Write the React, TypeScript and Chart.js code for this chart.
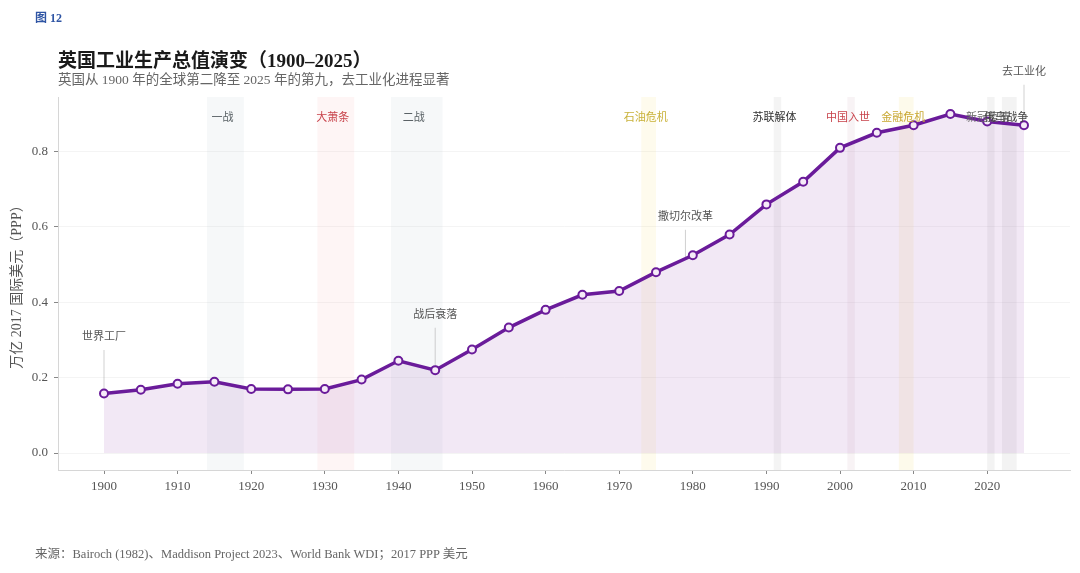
import React, { useEffect, useRef } from "react";
import { Chart, registerables } from "chart.js";

Chart.register(...registerables);

const years = [1900, 1905, 1910, 1915, 1920, 1925, 1930, 1935, 1940, 1945, 1950, 1955, 1960, 1965, 1970, 1975, 1980, 1985, 1990, 1995, 2000, 2005, 2010, 2015, 2020, 2025];
const values = [0.158, 0.168, 0.184, 0.189, 0.170, 0.169, 0.170, 0.195, 0.245, 0.220, 0.275, 0.333, 0.380, 0.420, 0.430, 0.480, 0.525, 0.580, 0.660, 0.720, 0.810, 0.850, 0.870, 0.900, 0.880, 0.870];
const xTickYears = [1900, 1910, 1920, 1930, 1940, 1950, 1960, 1970, 1980, 1990, 2000, 2010, 2020];
const yTickValues = [0.0, 0.2, 0.4, 0.6, 0.8];

const eventNames = ["一战", "大萧条", "二战", "石油危机", "苏联解体", "中国入世", "金融危机", "新冠疫情", "俄乌战争"];
const eventStarts = [1914, 1929, 1939, 1973, 1991, 2001, 2008, 2020, 2022];
const eventEnds = [1919, 1934, 1946, 1975, 1992, 2002, 2010, 2021, 2024];
const eventBandColors = [
  "rgba(120,145,160,0.065)",
  "rgba(240,90,90,0.06)",
  "rgba(120,145,160,0.065)",
  "rgba(240,210,60,0.09)",
  "rgba(100,100,100,0.07)",
  "rgba(150,90,110,0.07)",
  "rgba(240,210,60,0.10)",
  "rgba(100,100,100,0.075)",
  "rgba(100,100,100,0.075)",
];
const eventTextColors = ["#5a6266", "#c8434b", "#5a6266", "#c9b23a", "#333333", "#c8434b", "#c9a832", "#666666", "#444444"];

const noteTexts = ["世界工厂", "战后衰落", "撒切尔改革", "去工业化"];
const noteYears = [1900, 1945, 1979, 2025];
const noteAnchors = [0.158, 0.22, 0.516, 0.87];
const noteLabelValues = [0.308, 0.367, 0.627, 1.012];

const SERIF = '"Liberation Serif", "DejaVu Serif", "Noto Sans CJK SC", serif';

const overlayPlugin = {
  id: "overlay",
  beforeDatasetsDraw(chart: any) {
    const { ctx, chartArea, scales } = chart;
    const xs = scales.x;
    ctx.save();
    for (let i = 0; i < eventNames.length; i++) {
      const x0 = xs.getPixelForValue(eventStarts[i]);
      const x1 = xs.getPixelForValue(eventEnds[i]);
      ctx.fillStyle = eventBandColors[i];
      ctx.fillRect(x0, chartArea.top, x1 - x0, chartArea.bottom - chartArea.top);
    }
    ctx.strokeStyle = "rgba(120,120,120,0.35)";
    ctx.lineWidth = 1;
    for (let i = 0; i < noteTexts.length; i++) {
      const x = xs.getPixelForValue(noteYears[i]);
      const yA = scales.y.getPixelForValue(noteAnchors[i]);
      const yL = scales.y.getPixelForValue(noteLabelValues[i]) + 13;
      ctx.beginPath();
      ctx.moveTo(x, yL);
      ctx.lineTo(x, yA);
      ctx.stroke();
    }
    ctx.restore();
  },
  afterDatasetsDraw(chart: any) {
    const { ctx, scales } = chart;
    const xs = scales.x;
    const ys = scales.y;
    ctx.save();
    ctx.textAlign = "center";
    ctx.textBaseline = "middle";
    ctx.font = `11px ${SERIF}`;
    for (let i = 0; i < eventNames.length; i++) {
      const xm = xs.getPixelForValue((eventStarts[i] + eventEnds[i]) / 2);
      ctx.fillStyle = eventTextColors[i];
      ctx.fillText(eventNames[i], xm - 3, ys.getPixelForValue(0.89));
    }
    ctx.fillStyle = "#555555";
    for (let i = 0; i < noteTexts.length; i++) {
      const x = xs.getPixelForValue(noteYears[i]);
      ctx.fillText(noteTexts[i], x, ys.getPixelForValue(noteLabelValues[i]));
    }
    ctx.restore();
  },
};

export default function App() {
  const canvasRef = useRef<HTMLCanvasElement | null>(null);

  useEffect(() => {
    if (!canvasRef.current) return;
    const chart = new Chart(canvasRef.current, {
      type: "line",
      data: {
        datasets: [
          {
            data: years.map((y, i) => ({ x: y, y: values[i] })),
            borderColor: "#6a1b9a",
            borderWidth: 3.5,
            backgroundColor: "rgba(165,100,190,0.15)",
            fill: { value: 0 },
            pointRadius: 4,
            pointBorderWidth: 2,
            pointBackgroundColor: "#f6ebf8",
            pointBorderColor: "#6a1b9a",
            tension: 0,
          },
        ],
      },
      options: {
        responsive: false,
        animation: false,
        devicePixelRatio: 1,
        layout: { padding: { left: 0, top: 97, right: 10, bottom: 0 } },
        plugins: { legend: { display: false }, tooltip: { enabled: false } },
        scales: {
          x: {
            type: "linear",
            min: 1893.75,
            max: 2031.25,
            afterBuildTicks(scale: any) {
              scale.ticks = xTickYears.map((v) => ({ value: v }));
            },
            afterFit(scale: any) {
              scale.height = 103;
            },
            grid: { drawOnChartArea: false, drawTicks: true, tickLength: 4, tickColor: "#888", color: "#888" },
            border: { display: true, color: "#d6d6d6", width: 1 },
            ticks: {
              color: "#555",
              font: { family: SERIF, size: 13 },
              padding: 5,
              callback: (v: any) => String(v),
            },
          },
          y: {
            type: "linear",
            min: -0.045,
            max: 0.945,
            afterBuildTicks(scale: any) {
              scale.ticks = yTickValues.map((v) => ({ value: v }));
            },
            afterFit(scale: any) {
              scale.width = 58;
            },
            grid: { color: "rgba(0,0,0,0.045)", tickLength: 4, tickColor: "#888" },
            border: { display: true, color: "#d6d6d6", width: 1 },
            ticks: {
              color: "#555",
              font: { family: SERIF, size: 13 },
              padding: 6,
              callback: (v: any) => Number(v).toFixed(1),
            },
            title: {
              display: true,
              text: "万亿 2017 国际美元（PPP）",
              color: "#555",
              font: { family: SERIF, size: 14 },
              padding: { top: 9, bottom: 0 },
            },
          },
        },
      },
      plugins: [overlayPlugin],
    } as any);
    return () => chart.destroy();
  }, []);

  return (
    <div style={{ position: "fixed", left: 0, top: 0, width: 1080, height: 573, background: "#fff", fontFamily: SERIF }}>
      <canvas ref={canvasRef} width={1080} height={573} style={{ position: "absolute", left: 0, top: 0 }} />
      <div style={{ position: "absolute", left: 35, top: 8, fontSize: 12, color: "#2f55a4", fontWeight: "bold", whiteSpace: "nowrap" }}>图 12</div>
      <div style={{ position: "absolute", left: 58, top: 50, fontSize: 19, fontWeight: "bold", color: "#1a1a1a", whiteSpace: "nowrap", lineHeight: "22px" }}>
        英国工业生产总值演变（1900–2025）
      </div>
      <div style={{ position: "absolute", left: 58, top: 71, fontSize: 13.5, color: "#666", whiteSpace: "nowrap", lineHeight: "18px" }}>
        英国从 1900 年的全球第二降至 2025 年的第九，去工业化进程显著
      </div>
      <div style={{ position: "absolute", left: 35, top: 547, fontSize: 12.5, color: "#666", whiteSpace: "nowrap", lineHeight: "15px" }}>
        来源：Bairoch (1982)、Maddison Project 2023、World Bank WDI；2017 PPP 美元
      </div>
    </div>
  );
}
